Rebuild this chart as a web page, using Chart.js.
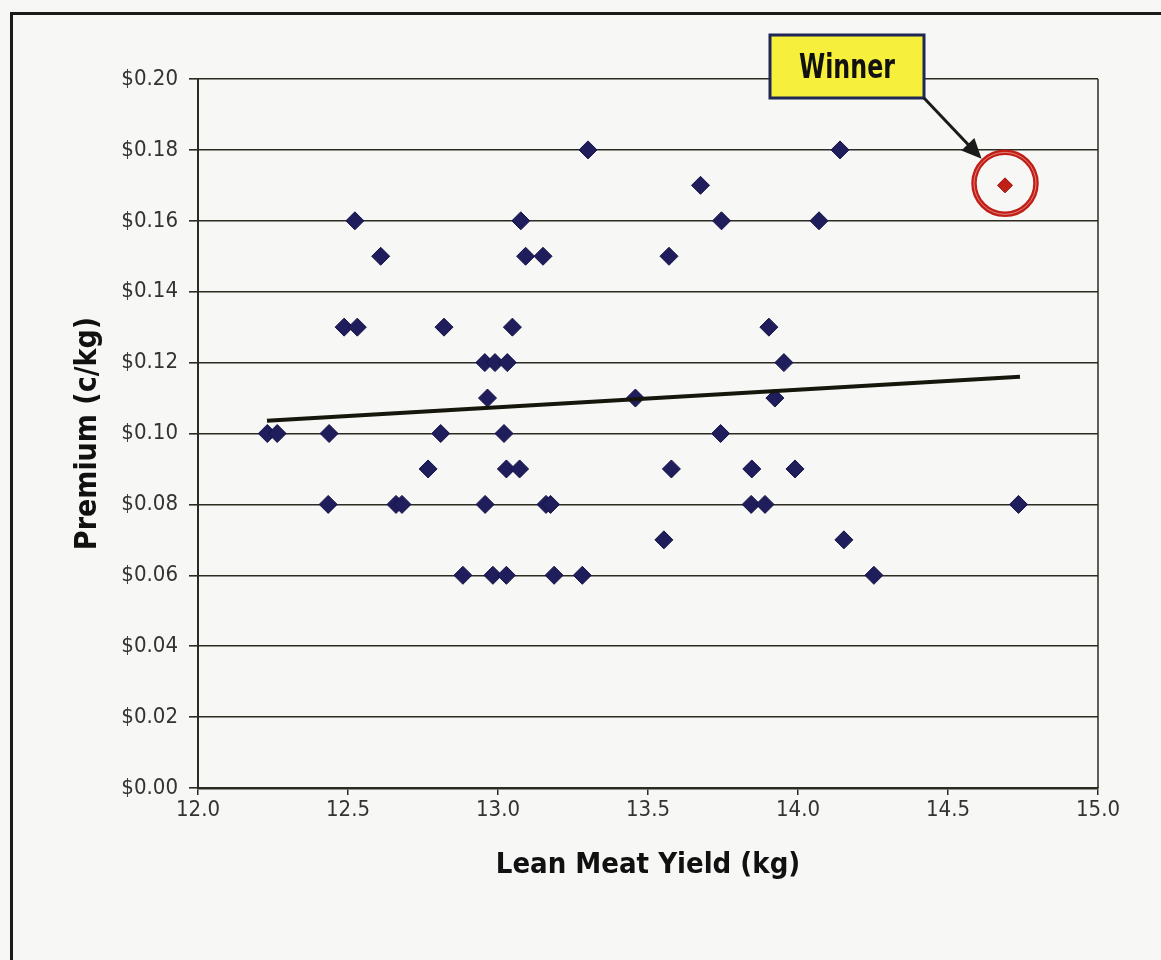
<!DOCTYPE html>
<html>
<head>
<meta charset="utf-8">
<script src="https://cdn.jsdelivr.net/npm/chart.js@4.4.1/dist/chart.umd.min.js"></script>
<style>
  html, body { margin: 0; padding: 0; background: #f7f7f5; }
  #wrap { width: 1161px; height: 960px; position: relative; }
</style>
</head>
<body>
<div id="wrap"><canvas id="scatter" width="1161" height="960"></canvas></div>
<script>
// ── data ─────────────────────────────────────────────────────────────────────
const yieldKg = [
    13.30, 14.14,
    13.675,
    12.523, 13.076, 13.745, 14.07,
    12.609, 13.092, 13.15, 13.57,
    12.487, 12.531, 12.82, 13.048, 13.903,
    12.956, 12.99, 13.031, 13.953,
    12.965, 13.458, 13.923,
    12.231, 12.264, 12.437, 12.809, 13.02, 13.742,
    12.767, 13.028, 13.072, 13.578, 13.846, 13.99,
    12.434, 12.66, 12.68, 12.957, 13.16, 13.175, 13.844, 13.89, 14.735,
    13.553, 14.153,
    12.883, 12.983, 13.028, 13.187, 13.281, 14.253
];
const premium = [
    0.18, 0.18,
    0.17,
    0.16, 0.16, 0.16, 0.16,
    0.15, 0.15, 0.15, 0.15,
    0.13, 0.13, 0.13, 0.13, 0.13,
    0.12, 0.12, 0.12, 0.12,
    0.11, 0.11, 0.11,
    0.10, 0.10, 0.10, 0.10, 0.10, 0.10,
    0.09, 0.09, 0.09, 0.09, 0.09, 0.09,
    0.08, 0.08, 0.08, 0.08, 0.08, 0.08, 0.08, 0.08, 0.08,
    0.07, 0.07,
    0.06, 0.06, 0.06, 0.06, 0.06, 0.06
];
const winnerYield = [14.69];
const winnerPremium = [0.17];
const trendYield = [12.23, 14.74];
const trendPremium = [0.1036, 0.1160];

const xTickValues = [12.0, 12.5, 13.0, 13.5, 14.0, 14.5, 15.0];
const yTickValues = [0, 0.02, 0.04, 0.06, 0.08, 0.10, 0.12, 0.14, 0.16, 0.18, 0.20];
const xTitle = 'Lean Meat Yield (kg)';
const yTitle = 'Premium (c/kg)';
const calloutText = 'Winner';

// ── styling ──────────────────────────────────────────────────────────────────
const FONT = "'Liberation Sans Narrow', 'DejaVu Sans Condensed', 'Liberation Sans', sans-serif";
const INK = '#2b2b22';
const NAVY = '#1f1d5c';
const RED = '#c01f17';

function toPoints(xs, ys) {
    return xs.map((x, i) => ({ x: x, y: ys[i] }));
}

const decorations = {
    id: 'decorations',
    beforeDraw(chart) {
        const ctx = chart.ctx;
        ctx.save();
        ctx.fillStyle = '#f7f7f5';
        ctx.fillRect(0, 0, chart.width, chart.height);
        // outer frame of the figure (top and left visible on the scan)
        ctx.strokeStyle = '#1a1a1a';
        ctx.lineWidth = 3;
        ctx.beginPath();
        ctx.moveTo(11.5, chart.height);
        ctx.lineTo(11.5, 13.5);
        ctx.lineTo(chart.width, 13.5);
        ctx.stroke();
        ctx.restore();
    },
    afterDraw(chart) {
        const ctx = chart.ctx;
        const area = chart.chartArea;
        const xs = chart.scales.x, ys = chart.scales.y;
        ctx.save();

        // right edge of the plot box
        ctx.strokeStyle = INK;
        ctx.lineWidth = 1.5;
        ctx.beginPath();
        ctx.moveTo(area.right, area.top);
        ctx.lineTo(area.right, area.bottom);
        ctx.stroke();

        // ring around the winning point
        const cx = xs.getPixelForValue(winnerYield[0]);
        const cy = ys.getPixelForValue(winnerPremium[0]) - 2;
        const r = 31;
        ctx.strokeStyle = RED;
        ctx.lineWidth = 5.5;
        ctx.beginPath();
        ctx.arc(cx, cy, r, 0, Math.PI * 2);
        ctx.stroke();
        ctx.strokeStyle = 'rgba(255,205,205,0.55)';
        ctx.lineWidth = 1;
        ctx.beginPath();
        ctx.arc(cx, cy, r, 0, Math.PI * 2);
        ctx.stroke();

        // callout box
        const bx = 770, by = 35, bw = 154, bh = 63;
        ctx.fillStyle = '#f6ef3c';
        ctx.fillRect(bx, by, bw, bh);
        ctx.strokeStyle = '#1e2755';
        ctx.lineWidth = 3;
        ctx.strokeRect(bx, by, bw, bh);
        ctx.save();
        ctx.translate(bx + bw / 2, by + bh / 2 + 3);
        ctx.scale(0.8, 1);
        ctx.fillStyle = '#111';
        ctx.font = 'bold 33px ' + FONT;
        ctx.textAlign = 'center';
        ctx.textBaseline = 'middle';
        ctx.fillText(calloutText, 0, 0);
        ctx.restore();

        // arrow from box corner to ring
        const sx = bx + bw, sy = by + bh;
        const dx = cx - sx, dy = cy - sy;
        const len = Math.sqrt(dx * dx + dy * dy);
        const ux = dx / len, uy = dy / len;
        const tx = cx - ux * (r + 3), ty = cy - uy * (r + 3);
        ctx.strokeStyle = '#1a1a1a';
        ctx.lineWidth = 3;
        ctx.beginPath();
        ctx.moveTo(sx, sy);
        ctx.lineTo(tx - ux * 10, ty - uy * 10);
        ctx.stroke();
        ctx.fillStyle = '#1a1a1a';
        ctx.beginPath();
        ctx.moveTo(tx, ty);
        ctx.lineTo(tx - ux * 20 - uy * 9, ty - uy * 20 + ux * 9);
        ctx.lineTo(tx - ux * 20 + uy * 9, ty - uy * 20 - ux * 9);
        ctx.closePath();
        ctx.fill();

        ctx.restore();
    }
};

new Chart(document.getElementById('scatter').getContext('2d'), {
    type: 'scatter',
    data: {
        datasets: [
            {
                type: 'line',
                label: 'trend',
                data: toPoints(trendYield, trendPremium),
                borderColor: '#16160c',
                borderWidth: 4,
                pointRadius: 0,
                fill: false,
                order: 0
            },
            {
                label: 'winner',
                data: toPoints(winnerYield, winnerPremium),
                pointStyle: 'rectRot',
                pointRadius: 7.5,
                backgroundColor: RED,
                borderColor: '#9a140c',
                borderWidth: 1,
                order: 1
            },
            {
                label: 'carcasses',
                data: toPoints(yieldKg, premium),
                pointStyle: 'rectRot',
                pointRadius: 9,
                backgroundColor: NAVY,
                borderColor: '#151447',
                borderWidth: 1,
                order: 2
            }
        ]
    },
    options: {
        responsive: false,
        animation: false,
        layout: { padding: { top: 79, right: 63, left: 0, bottom: 0 } },
        plugins: {
            legend: { display: false },
            tooltip: { enabled: false }
        },
        scales: {
            x: {
                type: 'linear',
                min: 12,
                max: 15,
                afterFit: s => { s.height = 172; },
                afterBuildTicks: s => { s.ticks = xTickValues.map(v => ({ value: v })); },
                ticks: {
                    color: '#333',
                    padding: 2,
                    font: { family: FONT, size: 22 },
                    callback: v => Number(v).toFixed(1)
                },
                grid: {
                    drawOnChartArea: false,
                    drawTicks: true,
                    tickLength: 7,
                    tickColor: INK,
                    lineWidth: 1.5
                },
                border: { display: true, color: INK, width: 2.5 },
                title: {
                    display: true,
                    text: xTitle,
                    color: '#111',
                    font: { family: FONT, size: 29, weight: 'bold' },
                    padding: { top: 0, bottom: 77 }
                }
            },
            y: {
                type: 'linear',
                min: 0,
                max: 0.2,
                afterFit: s => { s.width = 198; },
                afterBuildTicks: s => { s.ticks = yTickValues.map(v => ({ value: v })); },
                ticks: {
                    color: '#333',
                    padding: 11,
                    font: { family: FONT, size: 22 },
                    callback: v => '$' + Number(v).toFixed(2)
                },
                grid: {
                    color: INK,
                    lineWidth: 1.6,
                    tickLength: 9,
                    tickColor: INK
                },
                border: { display: true, color: INK, width: 2 },
                title: {
                    display: true,
                    text: yTitle,
                    color: '#111',
                    font: { family: FONT, size: 30, weight: 'bold' },
                    padding: { top: 70, bottom: 0 }
                }
            }
        }
    },
    plugins: [decorations]
});
</script>
</body>
</html>
